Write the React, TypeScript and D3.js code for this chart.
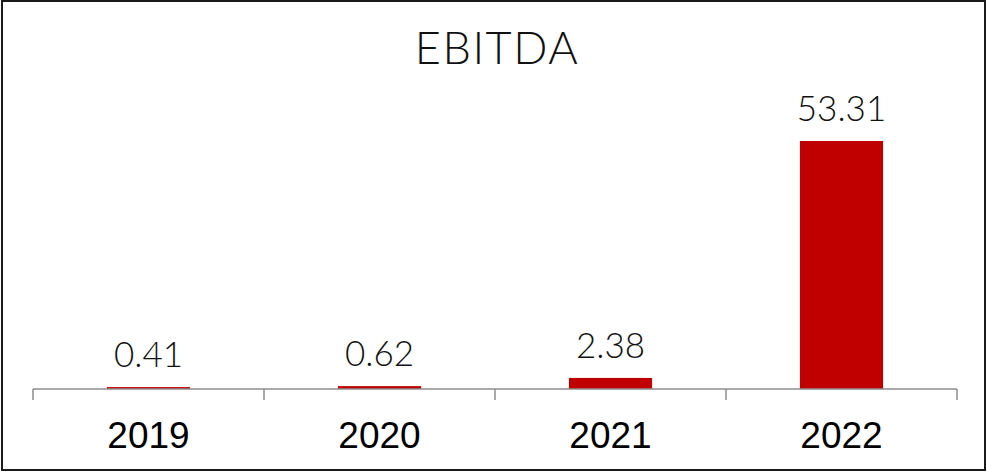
import React from "react";
import * as d3 from "d3";

const years = ["2019", "2020", "2021", "2022"];
const ebitda = [0.41, 0.62, 2.38, 53.31];
const valueLabels = ["0.41", "0.62", "2.38", "53.31"];
const chartTitle = "EBITDA";

const W = 987;
const H = 472;
const plot = { left: 33, right: 957, top: 141, bottom: 389 };

export default function App() {
  const x = d3
    .scaleBand<string>()
    .domain(years)
    .range([plot.left, plot.right])
    .paddingInner(0.64)
    .paddingOuter(0.32);
  const y = d3
    .scaleLinear()
    .domain([0, 53.31])
    .range([plot.bottom, plot.top]);

  const step = x.step();
  const tickXs = years.map((_, i) => plot.left + i * step).concat([plot.right]);

  const lightFont = "Lato, 'Open Sans', sans-serif";

  return (
    <svg
      width={W}
      height={H}
      style={{ position: "absolute", left: 0, top: 0, display: "block", background: "#fff" }}
    >
      <rect x={2} y={1} width={983} height={469} fill="#fff" stroke="#1a1a1a" strokeWidth={2} />
      <text
        x={497}
        y={64}
        textAnchor="middle"
        fontFamily={lightFont}
        fontWeight={300}
        fontSize={45}
        letterSpacing={1.5}
        fill="#111"
      >
        {chartTitle}
      </text>

      {years.map((yr, i) => (
        <rect
          key={yr}
          x={x(yr)}
          y={y(ebitda[i])}
          width={x.bandwidth()}
          height={plot.bottom - y(ebitda[i])}
          fill="#c00000"
        />
      ))}

      <line x1={plot.left} x2={plot.right} y1={plot.bottom} y2={plot.bottom} stroke="#8c8c8c" strokeWidth={1.5} />
      {tickXs.map((tx, i) => (
        <line key={i} x1={tx} x2={tx} y1={plot.bottom} y2={400} stroke="#8c8c8c" strokeWidth={1.5} />
      ))}

      {years.map((yr, i) => (
        <text
          key={"v" + yr}
          x={(x(yr) as number) + x.bandwidth() / 2}
          y={y(ebitda[i]) - 20}
          textAnchor="middle"
          fontFamily={lightFont}
          fontWeight={300}
          fontSize={35}
          fill="#111"
        >
          {valueLabels[i]}
        </text>
      ))}

      {years.map((yr) => (
        <text
          key={"c" + yr}
          x={(x(yr) as number) + x.bandwidth() / 2}
          y={448}
          textAnchor="middle"
          fontFamily="'Liberation Sans', Arial, sans-serif"
          fontSize={37}
          fill="#000"
        >
          {yr}
        </text>
      ))}
    </svg>
  );
}
